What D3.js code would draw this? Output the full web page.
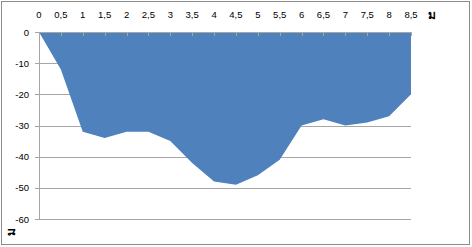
<!DOCTYPE html>
<html><head><meta charset="utf-8">
<script src="https://cdn.jsdelivr.net/npm/d3@7"></script>
<style>body{margin:0;background:#fff}svg{display:block}</style>
</head><body>
<script>
const xValues = [0,0.5,1,1.5,2,2.5,3,3.5,4,4.5,5,5.5,6,6.5,7,7.5,8,8.5];
const depths  = [0,-12,-32,-34,-32,-32,-35,-42,-48,-49,-46,-41,-30,-28,-30,-29,-27,-20];
const xTickLabels = ["0","0,5","1","1,5","2","2,5","3","3,5","4","4,5","5","5,5","6","6,5","7","7,5","8","8,5"];
const yTicks = [0,-10,-20,-30,-40,-50,-60];
const unitLabel = "ม";

const W = 472, H = 247;
const svg = d3.select("body").append("svg").attr("width", W).attr("height", H);
svg.append("rect").attr("x",1.5).attr("y",1.5).attr("width",W-4).attr("height",H-4)
  .attr("fill","#fff").attr("stroke","#8c8c8c").attr("stroke-width",1);

const x = d3.scaleLinear().domain([0,8.5]).range([39,411]);
const y = d3.scaleLinear().domain([0,-60]).range([32,219]);
const font = "'Liberation Sans', Arial, sans-serif";

// gridlines
svg.append("g").selectAll("line").data(yTicks.filter(d=>d!==0)).join("line")
  .attr("x1",35).attr("x2",411).attr("y1",d=>Math.round(y(d))+0.5).attr("y2",d=>Math.round(y(d))+0.5)
  .attr("stroke","#a6a6a6").attr("stroke-width",1);

// area
const area = d3.area().x((d,i)=>x(xValues[i])).y0(y(0)).y1(d=>y(d));
svg.append("path").datum(depths).attr("d",area).attr("fill","#4F81BD");

// left axis line
svg.append("line").attr("x1",39.5).attr("x2",39.5).attr("y1",y(0)).attr("y2",y(-60))
  .attr("stroke","#a6a6a6");
// top axis line
svg.append("line").attr("x1",35).attr("x2",411).attr("y1",Math.round(y(0))+0.5).attr("y2",Math.round(y(0))+0.5)
  .attr("stroke","#a6a6a6");
// top tick marks
svg.append("g").selectAll("line").data(xValues).join("line")
  .attr("x1",d=>Math.round(x(d))+0.5).attr("x2",d=>Math.round(x(d))+0.5)
  .attr("y1",y(0)).attr("y2",y(0)+4).attr("stroke","#a6a6a6");

// x labels
svg.append("g").selectAll("text").data(xValues).join("text")
  .attr("x",d=>x(d)).attr("y",18).attr("text-anchor","middle")
  .attr("font-family",font).attr("font-size","9.5px").attr("fill","#000")
  .text((d,i)=>xTickLabels[i]);
// y labels
svg.append("g").selectAll("text").data(yTicks).join("text")
  .attr("x",29).attr("y",d=>y(d)+3.5).attr("text-anchor","end")
  .attr("font-family",font).attr("font-size","9.5px").attr("fill","#000")
  .text(d=>d);

// unit labels
svg.append("text").attr("x",432).attr("y",19).attr("text-anchor","middle")
  .attr("font-family","'Noto Sans', 'DejaVu Sans', sans-serif").attr("font-weight","bold").attr("font-size","12px").text(unitLabel);
svg.append("text").attr("transform","translate(15,232) rotate(-90)").attr("text-anchor","middle")
  .attr("font-family","'Noto Sans', 'DejaVu Sans', sans-serif").attr("font-weight","bold").attr("font-size","12px").text(unitLabel);
</script>
</body></html>
